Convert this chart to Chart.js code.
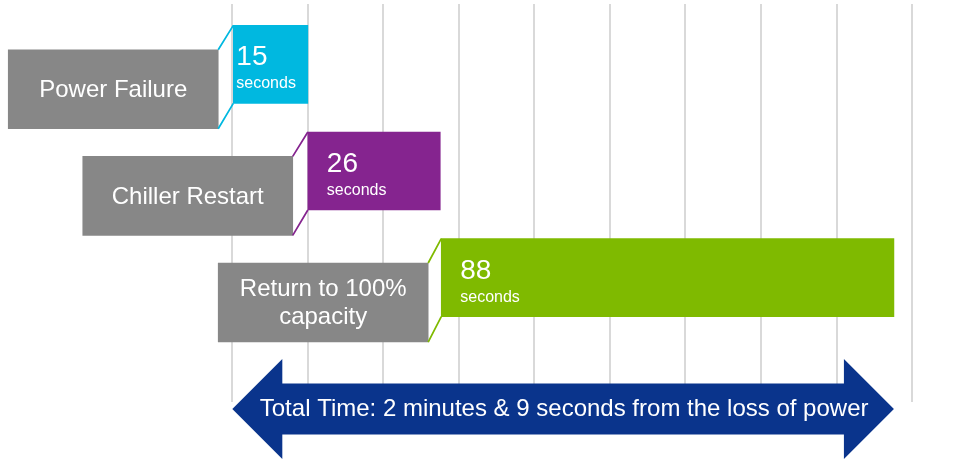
<!DOCTYPE html>
<html><head><meta charset="utf-8">
<script src="https://cdn.jsdelivr.net/npm/chart.js@4.4.1/dist/chart.umd.min.js"></script>
<style>html,body{margin:0;padding:0;background:#fff;overflow:hidden;} canvas{display:block;}</style>
</head><body>
<canvas id="c" width="978" height="460"></canvas>
<script>
// ---- data ----
const categories = ['Power Failure', 'Chiller Restart', 'Return to 100%\ncapacity'];
const barStarts = [0, 15, 41.5];
const barEnds = [15, 41.3, 131.4];
const durations = [15, 26, 88];
const durationUnit = 'seconds';
const labelBoxStarts = [-44.5, -29.7, -2.8];
const labelBoxEnds = [-2.8, 12.0, 38.9];
const gridTicks = [0, 15, 30, 45, 60, 75, 90, 105, 120, 135];
const totalSpan = [0, 131.4];
const totalLabel = 'Total Time: 2 minutes & 9 seconds from the loss of power';

// ---- styles ----
const barColors = ['#00B8E0', '#85248F', '#7FBA00'];
const boxColor = '#878787';
const arrowColor = '#0A348C';
const FONT = '"Liberation Sans", Arial, Helvetica, sans-serif';

const decorPlugin = {
  id: 'decor',
  afterDatasetsDraw(chart) {
    const ctx = chart.ctx;
    const bars = chart.getDatasetMeta(0).data;
    const boxes = chart.getDatasetMeta(1).data;
    ctx.save();
    bars.forEach((bar, i) => {
      const b = bar.getProps(['x', 'y', 'base', 'height'], true);
      const g = boxes[i].getProps(['x', 'y', 'base', 'height'], true);
      const bL = Math.min(b.x, b.base), bR = Math.max(b.x, b.base);
      const gL = Math.min(g.x, g.base), gR = Math.max(g.x, g.base);
      const bTop = b.y - b.height / 2, bBot = b.y + b.height / 2;
      const gTop = g.y - g.height / 2, gBot = g.y + g.height / 2;
      // connectors
      ctx.strokeStyle = barColors[i];
      ctx.lineWidth = 1.75;
      ctx.beginPath();
      ctx.moveTo(gR, gTop); ctx.lineTo(bL, bTop);
      ctx.moveTo(gR, gBot); ctx.lineTo(bL, bBot);
      ctx.stroke();
      // bar text
      const w = bR - bL;
      const inset = w < 100 ? 3 : 19;
      ctx.fillStyle = '#FFFFFF';
      ctx.textAlign = 'left';
      ctx.textBaseline = 'alphabetic';
      ctx.font = '28px ' + FONT;
      ctx.fillText(String(durations[i]), bL + inset, bTop + 40);
      ctx.font = '16px ' + FONT;
      ctx.fillText(durationUnit, bL + inset, bTop + 63);
      // box label
      const lines = categories[i].split('\n');
      ctx.font = '24px ' + FONT;
      ctx.textAlign = 'center';
      ctx.textBaseline = 'middle';
      const lh = 27.5;
      const cx = (gL + gR) / 2;
      lines.forEach((ln, k) => {
        ctx.fillText(ln, cx, g.y + (k - (lines.length - 1) / 2) * lh + 1);
      });
    });
    ctx.restore();
  },
  afterDraw(chart) {
    const ctx = chart.ctx;
    const xs = chart.scales.x;
    const x0 = xs.getPixelForValue(totalSpan[0]);
    const x1 = xs.getPixelForValue(totalSpan[1]);
    const cy = chart.chartArea.bottom + 7;
    const headHalf = 50, bodyHalf = 25.5, headLen = 50;
    ctx.save();
    ctx.fillStyle = arrowColor;
    ctx.beginPath();
    ctx.moveTo(x0, cy);
    ctx.lineTo(x0 + headLen, cy - headHalf);
    ctx.lineTo(x0 + headLen, cy - bodyHalf);
    ctx.lineTo(x1 - headLen, cy - bodyHalf);
    ctx.lineTo(x1 - headLen, cy - headHalf);
    ctx.lineTo(x1, cy);
    ctx.lineTo(x1 - headLen, cy + headHalf);
    ctx.lineTo(x1 - headLen, cy + bodyHalf);
    ctx.lineTo(x0 + headLen, cy + bodyHalf);
    ctx.lineTo(x0 + headLen, cy + headHalf);
    ctx.closePath();
    ctx.fill();
    ctx.fillStyle = '#FFFFFF';
    ctx.font = '24px ' + FONT;
    ctx.textAlign = 'center';
    ctx.textBaseline = 'middle';
    ctx.fillText(totalLabel, (x0 + x1) / 2 + 1, cy);
    ctx.restore();
  }
};

new Chart(document.getElementById('c'), {
  type: 'bar',
  data: {
    datasets: [
      {
        label: 'Duration',
        data: categories.map((c, i) => ({ y: i, x: [barStarts[i], barEnds[i]] })),
        backgroundColor: barColors,
        borderWidth: 0,
        barThickness: 78,
        grouped: false,
        yAxisID: 'y'
      },
      {
        label: 'Step',
        data: categories.map((c, i) => ({ y: i, x: [labelBoxStarts[i], labelBoxEnds[i]] })),
        backgroundColor: boxColor,
        borderWidth: 0,
        barThickness: 79,
        grouped: false,
        yAxisID: 'y2'
      }
    ]
  },
  options: {
    indexAxis: 'y',
    responsive: false,
    animation: false,
    layout: { padding: { top: 4, bottom: 58, left: 0, right: 0 } },
    plugins: { legend: { display: false }, tooltip: { enabled: false } },
    scales: {
      x: {
        type: 'linear', min: -46.14, max: 148.1,
        afterBuildTicks: s => { s.ticks = gridTicks.map(v => ({ value: v })); },
        ticks: { display: false },
        grid: { color: '#D9D9D9', lineWidth: 2, drawTicks: false },
        border: { display: false }
      },
      y: { type: 'linear', reverse: true, min: -0.566, max: 3.167, offset: false, bounds: 'data', grid: { offset: false }, display: false },
      y2: { type: 'linear', reverse: true, min: -0.80, max: 2.933, offset: false, bounds: 'data', grid: { offset: false }, display: false }
    }
  },
  plugins: [decorPlugin]
});
</script>
</body></html>
